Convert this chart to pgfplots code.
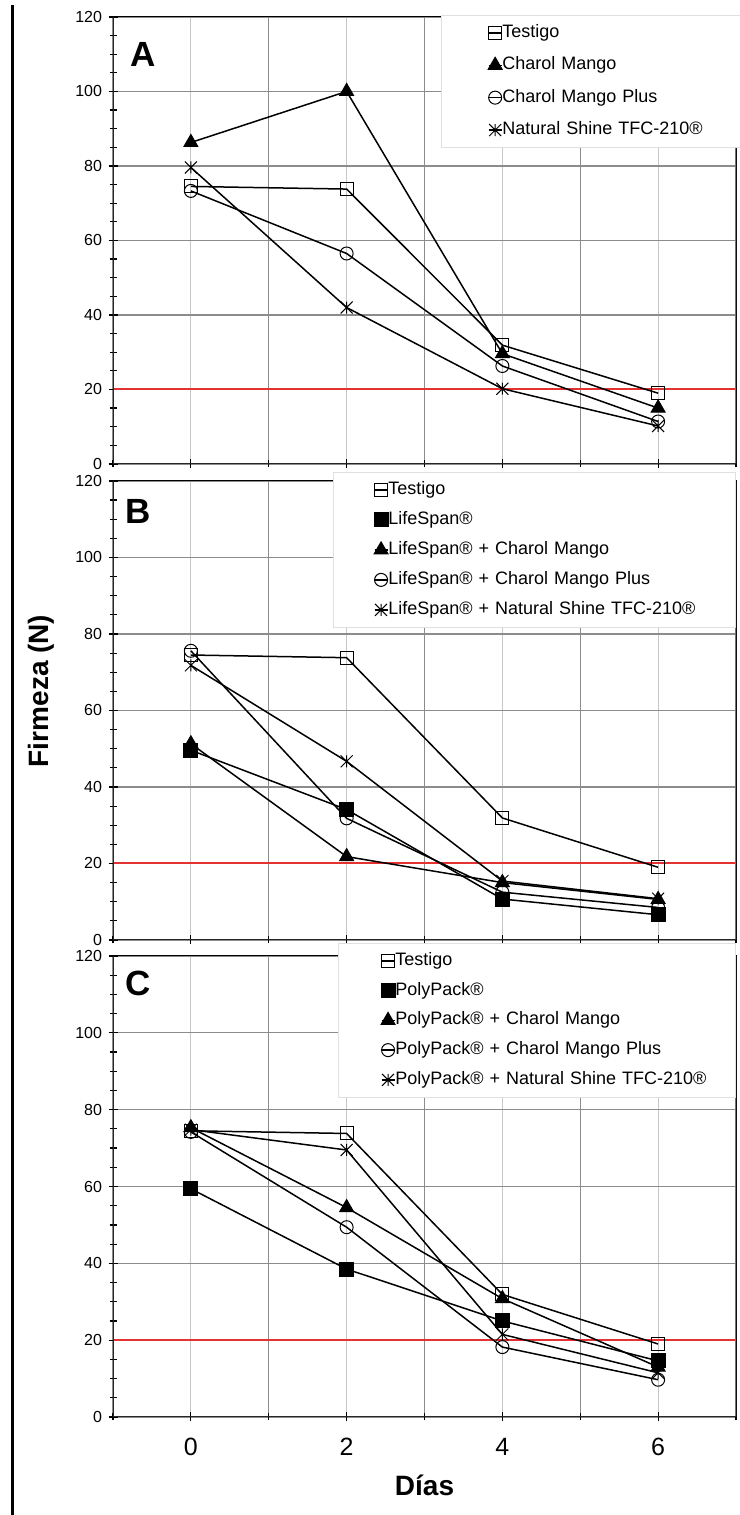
\documentclass[border=0pt]{standalone}
\usepackage{fontspec}
\setmainfont{Liberation Sans}
\usepackage{pgfplots}
\pgfplotsset{compat=1.18}
\usepackage{pgfplotstable}

\pgfdeclareplotmark{xstar}{%
 \pgfpathmoveto{\pgfqpoint{-\pgfplotmarksize}{-\pgfplotmarksize}}%
 \pgfpathlineto{\pgfqpoint{\pgfplotmarksize}{\pgfplotmarksize}}%
 \pgfpathmoveto{\pgfqpoint{-\pgfplotmarksize}{\pgfplotmarksize}}%
 \pgfpathlineto{\pgfqpoint{\pgfplotmarksize}{-\pgfplotmarksize}}%
 \pgfpathmoveto{\pgfqpoint{0pt}{-\pgfplotmarksize}}%
 \pgfpathlineto{\pgfqpoint{0pt}{\pgfplotmarksize}}%
 \pgfusepathqstroke}

\pgfplotstableread{
x  T     CM    CMP   NS
0  74.5  86.3  73.3  79.6
2  73.8  100   56.5  42.0
4  31.9  29.6  26.3  20.2
6  19.0  15.0  11.4  10.2
}\dataA

\pgfplotstableread{
x  T     LS    LSCM  LSCMP LSNS
0  74.5  49.6  51.3  75.6  71.8
2  73.8  34.1  21.8  31.8  46.7
4  31.9  10.7  15.0  12.5  15.4
6  19.0   6.6  10.6   8.5  10.8
}\dataB

\pgfplotstableread{
x  T     PP    PPCM  PPCMP PPNS
0  74.5  59.4  75.3  74.2  74.8
2  73.8  38.5  54.5  49.4  69.5
4  31.9  25.0  30.8  18.2  21.5
6  19.0  14.6  13.0   9.7  11.5
}\dataC

\definecolor{redline}{RGB}{228,50,50}

\pgfplotsset{
 panel/.style={
  scale only axis, width=623bp,
  xmin=-1, xmax=7, ymin=0, ymax=120,
  xtick={0,2,4,6}, minor xtick={-1,1,3,5,7},
  ytick={0,20,...,120}, minor ytick={5,10,...,115},
  xmajorgrids, xminorgrids, ymajorgrids,
  major x grid style={black!22, line width=1.2bp},
  minor x grid style={black!45, line width=1.2bp},
  major y grid style={black!45, line width=1.2bp},
  tick align=center, xtick pos=left, ytick pos=left,
  major tick length=9bp, minor tick length=7bp,
  every tick/.style={black, line width=1.2bp},
  axis line style={black, line width=1bp},
  /pgf/number format/assume math mode=true,
  yticklabel style={font=\fontsize{16bp}{19bp}\selectfont, xshift=-3bp},
  xticklabel style={font=\fontsize{25bp}{29bp}\selectfont, yshift=-13bp},
  legend cell align=left,
  legend image code/.code={%
    \path (-\legoff,0bp) (6.5bp,0bp);
    \draw[mark repeat=2, mark phase=2, ##1] plot coordinates {(-6.5bp,0bp) (0bp,0bp) (6.5bp,0bp)};},
 },
 ser/.style={black, line width=1.5bp, mark options={solid, line width=1bp}},
 sT/.style={ser, mark=square, mark size=6.5bp},
 sF/.style={ser, mark=square*, mark size=7bp},
 sTri/.style={ser, mark=triangle*, mark size=8bp},
 sC/.style={ser, mark=o, mark size=6.5bp},
 sX/.style={ser, mark=xstar, mark size=6bp},
 leg/.style n args={4}{legend style={at={(axis description cs:#1,#2)}, anchor=north west,
   fill=white, draw=black!12, line width=0.8bp, inner xsep=0bp, inner ysep=9bp,
   row sep=#3, font=\fontsize{18bp}{21bp}\selectfont,
   nodes={inner sep=0bp, text height=13bp, text depth=4bp, text width=#4, align=left},
   /tikz/every even column/.append style={column sep=0bp}}},
}

\newcommand{\frameaxis}{%
 \draw[line width=1.8bp, black!55] (rel axis cs:1,0) -- (rel axis cs:1,1);
 \draw[line width=2.5bp, black!85] (rel axis cs:0,1) -- (rel axis cs:0,0) -- (rel axis cs:1,0);
}

\begin{document}
\begin{tikzpicture}[x=1bp,y=1bp]
\useasboundingbox (0,0) rectangle (740,1515);
\draw[line width=2.5bp] (12.5,0) -- (12.5,1510);

% Panel A
\def\legoff{53bp}
\begin{axis}[panel, at={(113bp,1051bp)}, anchor=south west, height=447bp,
  xticklabels={}, leg={0.5265}{1.0045}{15.4bp}{238bp}]
\addplot[redline, line width=2bp, forget plot] coordinates {(-1,20) (7,20)};
\addplot[sT] table[x=x, y=T] {\dataA};
\addlegendentry{Testigo}
\addplot[sTri] table[x=x, y=CM] {\dataA};
\addlegendentry{Charol Mango}
\addplot[sC] table[x=x, y=CMP] {\dataA};
\addlegendentry{Charol Mango Plus}
\addplot[sX] table[x=x, y=NS] {\dataA};
\addlegendentry{Natural Shine TFC-210®}
\frameaxis
\end{axis}

% Panel B
\def\legoff{47bp}
\begin{axis}[panel, at={(113bp,575bp)}, anchor=south west, height=459bp,
  xticklabels={}, leg={0.353}{1.0196}{13bp}{347bp}]
\addplot[redline, line width=2bp, forget plot] coordinates {(-1,20) (7,20)};
\addplot[sT] table[x=x, y=T] {\dataB};
\addlegendentry{Testigo}
\addplot[sF] table[x=x, y=LS] {\dataB};
\addlegendentry{LifeSpan®}
\addplot[sTri] table[x=x, y=LSCM] {\dataB};
\addlegendentry{LifeSpan® + Charol Mango}
\addplot[sC] table[x=x, y=LSCMP] {\dataB};
\addlegendentry{LifeSpan® + Charol Mango Plus}
\addplot[sX] table[x=x, y=LSNS] {\dataB};
\addlegendentry{LifeSpan® + Natural Shine TFC-210®}
\frameaxis
\end{axis}

% Panel C
\def\legoff{49bp}
\begin{axis}[panel, at={(113bp,98bp)}, anchor=south west, height=461bp,
  xlabel={Días}, xlabel style={at={(axis description cs:0.5,-0.1475)}, anchor=center,
  font=\bfseries\fontsize{28bp}{32bp}\selectfont},
  leg={0.361}{1.0282}{12.75bp}{340bp}]
\addplot[redline, line width=2bp, forget plot] coordinates {(-1,20) (7,20)};
\addplot[sT] table[x=x, y=T] {\dataC};
\addlegendentry{Testigo}
\addplot[sF] table[x=x, y=PP] {\dataC};
\addlegendentry{PolyPack®}
\addplot[sTri] table[x=x, y=PPCM] {\dataC};
\addlegendentry{PolyPack® + Charol Mango}
\addplot[sC] table[x=x, y=PPCMP] {\dataC};
\addlegendentry{PolyPack® + Charol Mango Plus}
\addplot[sX] table[x=x, y=PPNS] {\dataC};
\addlegendentry{PolyPack® + Natural Shine TFC-210®}
\frameaxis
\end{axis}

\node[font=\bfseries\fontsize{35bp}{40bp}\selectfont] at (143,1461) {A};
\node[font=\bfseries\fontsize{35bp}{40bp}\selectfont] at (138,1004) {B};
\node[font=\bfseries\fontsize{35bp}{40bp}\selectfont] at (138,532) {C};
\node[rotate=90, font=\bfseries\fontsize{28bp}{32bp}\selectfont] at (41,824) {Firmeza (N)};
\end{tikzpicture}
\end{document}
